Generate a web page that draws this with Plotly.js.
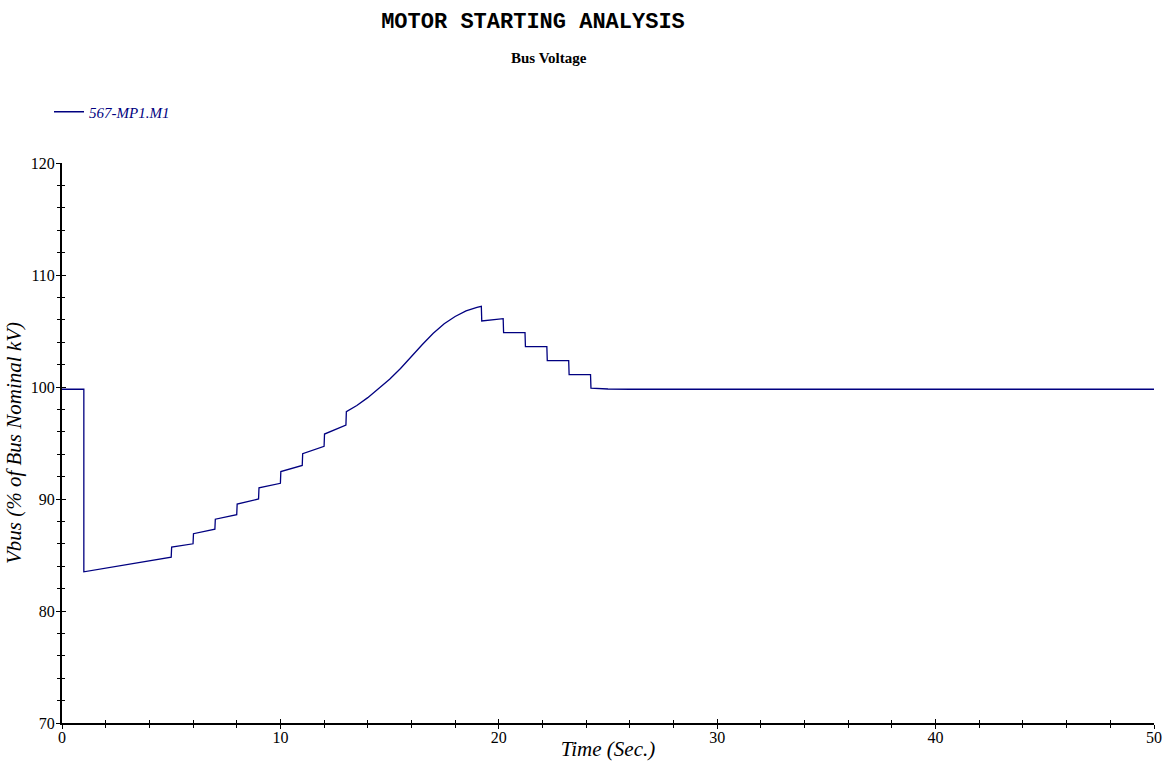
<!DOCTYPE html>
<html>
<head>
<meta charset="utf-8">
<script src="https://cdn.plot.ly/plotly-3.0.1.min.js"></script>
<style>
  html, body { margin: 0; padding: 0; background: #ffffff; }
  #chart { width: 1171px; height: 761px; }
</style>
</head>
<body>
<div id="chart"></div>
<script>
// Bus voltage during motor start, in percent of nominal kV, versus time in seconds.
const seriesName = "567-MP1.M1";

const timeSec = [
  0, 1.0, 1.0,
  5.0, 5.02, 6.0, 6.02, 7.0, 7.02, 8.0, 8.02, 9.0, 9.02,
  10.0, 10.02, 11.0, 11.02, 12.0, 12.02, 13.0, 13.02,
  13.5, 14.0, 14.5, 15.0, 15.5, 16.0, 16.5, 17.0, 17.5, 18.0, 18.5, 19.0, 19.2,
  19.22, 20.2, 20.22, 21.2, 21.22, 22.2, 22.22, 23.2, 23.22, 24.2, 24.22,
  25.0, 26.0, 30.0, 40.0, 50.0
];

const vbusPct = [
  99.8, 99.8, 83.5,
  84.8, 85.7, 86.0, 86.9, 87.3, 88.2, 88.6, 89.55, 90.0, 91.0,
  91.4, 92.45, 93.0, 94.05, 94.7, 95.8, 96.6, 97.8,
  98.35, 99.05, 99.85, 100.7, 101.65, 102.75, 103.8, 104.8, 105.65, 106.3, 106.8, 107.1, 107.2,
  105.9, 106.1, 104.85, 104.85, 103.6, 103.6, 102.35, 102.35, 101.1, 101.1, 99.9,
  99.82, 99.8, 99.8, 99.8, 99.8
];

const xTickVals = [0, 10, 20, 30, 40, 50];
const yTickVals = [70, 80, 90, 100, 110, 120];

const serif = "Liberation Serif, Times New Roman, serif";
const navy = "#000080";

// plot area in pixels, used to place the header texts and the legend
const W = 1171, H = 761;
const M = { l: 62, r: 17, t: 163, b: 38 };
const plotW = W - M.l - M.r;
const plotH = H - M.t - M.b;
const px2x = px => (px - M.l) / plotW;
const py2y = py => (H - M.b - py) / plotH;

const traces = [
  {
    x: timeSec,
    y: vbusPct,
    type: "scatter",
    mode: "lines",
    name: seriesName,
    line: { color: navy, width: 1.3 },
    hoverinfo: "x+y"
  },
  // empty trace that carries the inner tick marks so ticks cross the axis lines
  { x: [], y: [], xaxis: "x2", yaxis: "y2", showlegend: false, hoverinfo: "skip" }
];

const axisCommon = {
  showgrid: false,
  zeroline: false,
  showline: true,
  linecolor: "#000000",
  linewidth: 2,
  tickcolor: "#000000",
  tickwidth: 1.2,
  ticklen: 4,
  automargin: false,
  tickfont: { family: serif, size: 16, color: "#000000" }
};

const layout = {
  width: W,
  height: H,
  paper_bgcolor: "#ffffff",
  plot_bgcolor: "#ffffff",
  margin: { l: M.l, r: M.r, t: M.t, b: M.b, pad: 0 },
  title: {
    text: "<b>MOTOR STARTING ANALYSIS</b>",
    font: { family: "Liberation Mono, Courier New, monospace", size: 22, color: "#000000" },
    xref: "container", x: 533 / W, xanchor: "center",
    yref: "container", y: 1 - 20 / H, yanchor: "middle"
  },
  annotations: [
    {
      text: "<b>Bus Voltage</b>",
      xref: "paper", yref: "paper",
      x: px2x(549), y: py2y(58),
      xanchor: "center", yanchor: "middle",
      showarrow: false,
      font: { family: serif, size: 15, color: "#000000" }
    }
  ],
  showlegend: true,
  legend: {
    xref: "paper", yref: "paper",
    x: px2x(49), y: py2y(112),
    xanchor: "left", yanchor: "middle",
    bgcolor: "rgba(0,0,0,0)",
    font: { family: serif, size: 15, color: navy, style: "italic" }
  },
  xaxis: Object.assign({}, axisCommon, {
    range: [0, 50],
    tickvals: xTickVals,
    ticktext: xTickVals.map(String),
    ticks: "outside",
    ticklabelstandoff: -5,
    minor: { dtick: 2, tick0: 0, ticks: "outside", ticklen: 3, tickcolor: "#000000", tickwidth: 1 },
    title: {
      text: "<i>Time (Sec.)</i>",
      font: { family: serif, size: 21, color: "#000000" },
      standoff: 0
    }
  }),
  yaxis: Object.assign({}, axisCommon, {
    range: [70, 120],
    tickvals: yTickVals,
    ticktext: yTickVals.map(String),
    ticks: "outside",
    ticklabelstandoff: -2,
    minor: { dtick: 2, tick0: 70, ticks: "outside", ticklen: 3, tickcolor: "#000000", tickwidth: 1 },
    title: {
      text: "<i>Vbus (% of Bus Nominal kV)</i>",
      font: { family: serif, size: 21, color: "#000000" },
      standoff: 3
    }
  }),
  xaxis2: {
    overlaying: "x", matches: "x", anchor: "y2",
    showgrid: false, zeroline: false, showline: false,
    showticklabels: false, automargin: false,
    tickvals: xTickVals,
    ticks: "inside", ticklen: 4, tickwidth: 1.2, tickcolor: "#000000",
    minor: { dtick: 2, tick0: 0, ticks: "inside", ticklen: 3, tickcolor: "#000000", tickwidth: 1 }
  },
  yaxis2: {
    overlaying: "y", matches: "y", anchor: "x2",
    showgrid: false, zeroline: false, showline: false,
    showticklabels: false, automargin: false,
    tickvals: yTickVals,
    ticks: "inside", ticklen: 4, tickwidth: 1.2, tickcolor: "#000000",
    minor: { dtick: 2, tick0: 70, ticks: "inside", ticklen: 3, tickcolor: "#000000", tickwidth: 1 }
  }
};

Plotly.newPlot("chart", traces, layout, { displayModeBar: false });
</script>
</body>
</html>
